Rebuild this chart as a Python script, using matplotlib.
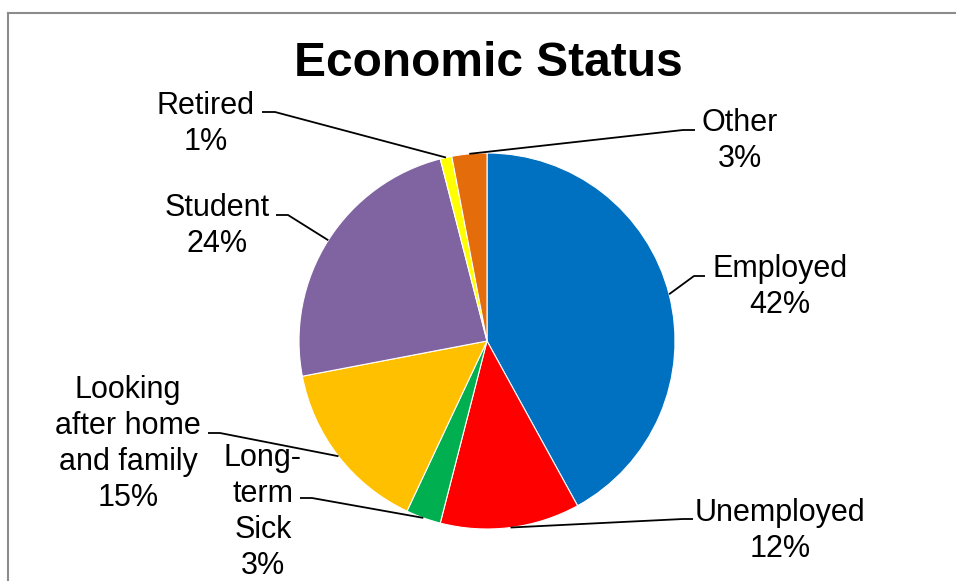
import numpy as np
import matplotlib
matplotlib.use("Agg")
import matplotlib.pyplot as plt
from matplotlib.lines import Line2D

plt.rcParams["font.family"] = ["Liberation Sans", "DejaVu Sans"]

# Economic status breakdown (percent)
categories = ["Employed", "Unemployed", "Long-\nterm\nSick", "Looking\nafter home\nand family",
              "Student", "Retired", "Other"]
values = [42, 12, 3, 15, 24, 1, 3]
colors = ["#0070C0", "#FF0000", "#00B050", "#FFC000", "#8064A2", "#FFFF00", "#E46C0A"]

W, H = 956, 581
fig = plt.figure(figsize=(W / 100, H / 100), dpi=100)
ax = fig.add_axes([0, 0, 1, 1])

def Y(py):
    return H - py

cx, cy, r = 487, Y(341), 188
ax.pie(values, colors=colors, startangle=90, counterclock=False,
       center=(cx, cy), radius=r,
       wedgeprops=dict(edgecolor="white", linewidth=0.8))
ax.set_xlim(0, W)
ax.set_ylim(0, H)
ax.set_aspect("equal")
ax.axis("off")

# outer chart frame
fig.add_artist(Line2D([8 / W, 8 / W], [0, 1 - 13 / H], color="#8c8c8c", lw=1.5))
fig.add_artist(Line2D([8 / W, 1], [1 - 13 / H, 1 - 13 / H], color="#8c8c8c", lw=1.5))

ax.text(488, Y(64), "Economic Status", ha="center", va="center",
        fontsize=34.5, fontweight="bold")

# label centres and leader-line elbows (pixel coordinates)
label_pos = [(780, 287), (780, 531), (263, 512), (128, 444), (217, 226), (206, 124), (740, 141)]
elbows = [((705, 276), (694, 276)),
          ((693, 519), (683, 519)),
          ((300, 498), (312, 498)),
          ((208, 433), (220, 433)),
          ((276, 215), (288, 215)),
          ((262, 112), (275, 112)),
          ((695, 130), (683, 130))]

total = sum(values)
cum = 0.0
for name, v, (lx, ly), (e0, e1) in zip(categories, values, label_pos, elbows):
    mid = 90 - 360 * (cum + v / 2) / total
    cum += v
    t = np.deg2rad(mid)
    px, py = cx + r * np.cos(t), cy + r * np.sin(t)
    ax.plot([e0[0], e1[0], px], [Y(e0[1]), Y(e1[1]), py], color="black", lw=1.3,
            solid_capstyle="butt")
    ax.text(lx, Y(ly), f"{name}\n{v}%", ha="center", va="center", fontsize=22,
            linespacing=1.27)

fig.savefig("out.png", dpi=100, facecolor="white")
